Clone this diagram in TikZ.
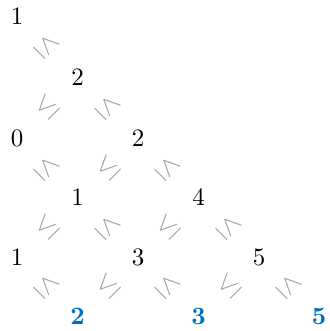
\documentclass[tikz,border=0pt]{standalone}
\definecolor{relgray}{RGB}{160,160,160}
\definecolor{resblue}{RGB}{0,110,190}
\tikzset{
  val/.style={inner sep=1pt},
  res/.style={inner sep=1pt, text=resblue, font=\bfseries},
  rel/.style={text=relgray, inner sep=0pt, scale=1.1},
}
\newcommand{\dr}[2]{\path (#1) -- node[rel, rotate=-45]{$\leq$} (#2);}
\newcommand{\dl}[2]{\path (#1) -- node[rel, rotate=45]{$\leq$} (#2);}
\begin{document}
\begin{tikzpicture}[x=0.4pt, y=-0.4pt]
\useasboundingbox (0,0) rectangle (330,331);
\node[val] (a) at (17,16) {1};
\node[val] (b) at (77.5,77) {2};
\node[val] (c) at (17,138) {0};
\node[val] (d) at (138,138) {2};
\node[val] (e) at (77.5,197.5) {1};
\node[val] (f) at (198.5,197.5) {4};
\node[val] (g) at (17,257.5) {1};
\node[val] (h) at (138,257.5) {3};
\node[val] (i) at (259,257.5) {5};
\node[res] (j) at (77.5,316) {2};
\node[res] (k) at (198.5,316) {3};
\node[res] (l) at (319,316) {5};
\dr{a}{b}
\dr{b}{d}
\dr{c}{e}
\dr{d}{f}
\dr{e}{h}
\dr{f}{i}
\dr{g}{j}
\dr{h}{k}
\dr{i}{l}
\dl{b}{c}
\dl{d}{e}
\dl{e}{g}
\dl{f}{h}
\dl{h}{j}
\dl{i}{k}
\end{tikzpicture}
\end{document}
